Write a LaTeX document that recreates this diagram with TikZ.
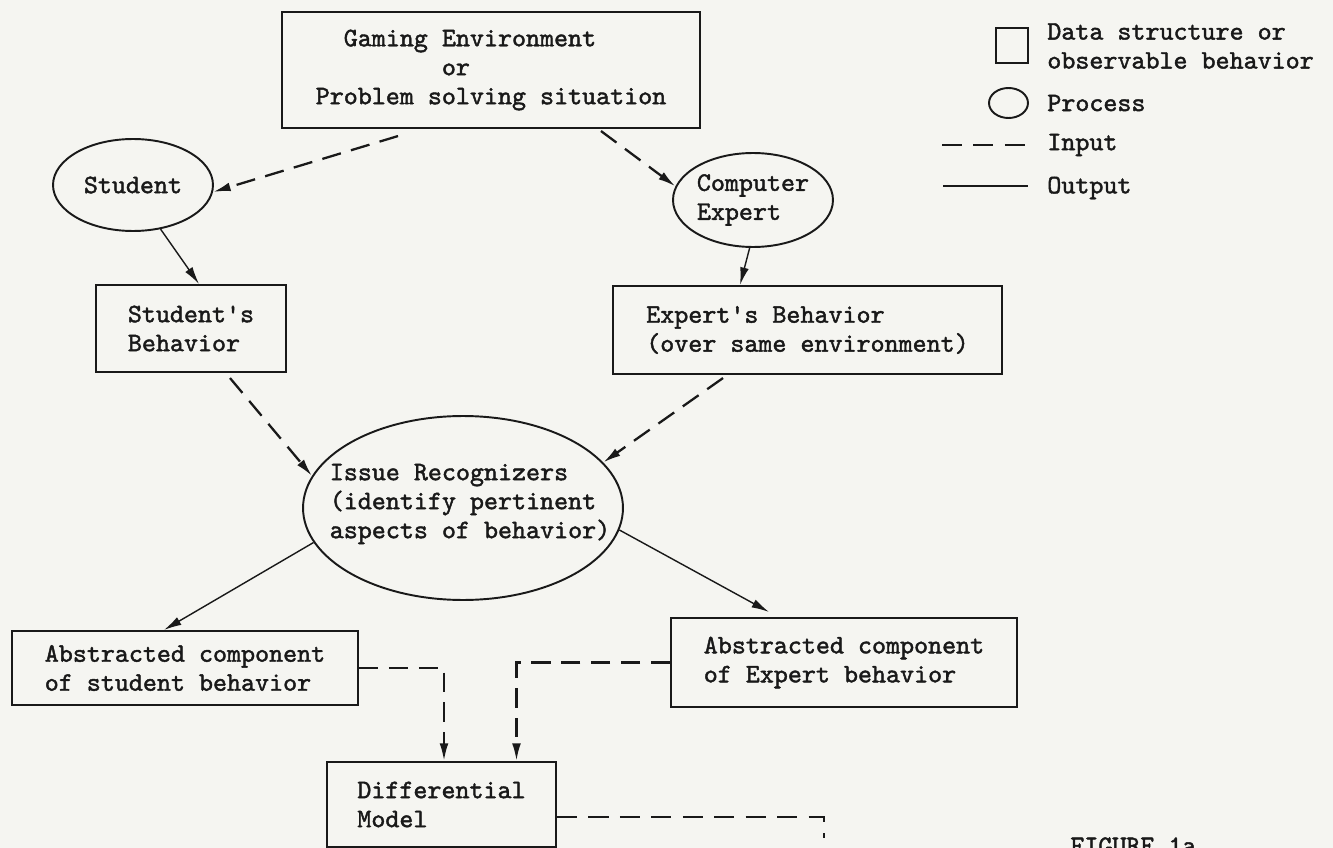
\documentclass[tikz,border=0pt]{standalone}
\usepackage{fontspec}
\newfontfamily\tw{lmmono10-regular.otf}[Ligatures=TeXOff,FakeBold=1.6]
\usetikzlibrary{arrows.meta,shapes.geometric}
\definecolor{ink}{RGB}{25,25,25}
\definecolor{paper}{RGB}{245,245,241}
\begin{document}
\begin{tikzpicture}[x=0.02cm,y=-0.02cm,
  txt/.style={font=\tw\fontsize{15.2}{16.5}\selectfont, text=ink, align=left, inner sep=0pt},
  box/.style={txt, draw=ink, line width=1.2pt, rectangle},
  proc/.style={txt, draw=ink, line width=1.1pt, ellipse},
  inarrow/.style={draw=ink, line width=1.3pt, dash pattern=on 11pt off 6pt, -{Latex[length=10pt,width=5pt]}},
  inline/.style={draw=ink, line width=1.3pt, dash pattern=on 11.4pt off 6.5pt},
  outarrow/.style={draw=ink, line width=0.8pt, -{Latex[length=10pt,width=5pt]}},
  outline/.style={draw=ink, line width=1.3pt}
]
\fill[paper] (0,0) rectangle (1333,848);
\useasboundingbox (0,0) rectangle (1333,848);

% main nodes
\node[box, minimum width=8.36cm, minimum height=2.32cm] (top) at (491,70)
  {\phantom{xx}Gaming Environment\\\phantom{xxxxxxxxx}or\\Problem solving situation};
\node[proc, minimum width=3.2cm, minimum height=1.84cm] (student) at (133,185) {Student};
\node[proc, minimum width=3.2cm, minimum height=1.88cm] (expert) at (753,200) {Computer\\Expert};
\node[box, minimum width=3.8cm, minimum height=1.74cm] (sbeh) at (191,328.5) {Student's\\Behavior};
\node[box, minimum width=7.78cm, minimum height=1.76cm] (ebeh) at (807.5,330)
  {Expert's Behavior\\(over same environment)};
\node[proc, minimum width=6.4cm, minimum height=3.68cm] (issue) at (463,508) {};
\node[txt] (issuet) at (470,504) {Issue Recognizers\\(identify pertinent\\aspects of behavior)};
\node[box, minimum width=6.92cm, minimum height=1.48cm] (absS) at (185,668)
  {Abstracted component\\of student behavior};
\node[box, minimum width=6.92cm, minimum height=1.78cm] (absE) at (844,662.5)
  {Abstracted component\\of Expert behavior};
\node[box, minimum width=4.58cm, minimum height=1.7cm] (diff) at (441.5,804.5)
  {Differential\\Model};
\coordinate (offp) at (824,838);
\node[txt, anchor=base west] (fig) at (1070,854) {FIGURE 1a};

% connectors
\draw[inarrow] ([xshift=-1.86cm,yshift=-0.14cm]top.south) -- (student.-5);
\draw[inarrow] ([xshift=2.2cm,yshift=-0.04cm]top.south) -- (expert.170);
\draw[outarrow] (student.-58) -- ([xshift=0.16cm]sbeh.north);
\draw[outarrow] (expert.-94) -- ([xshift=-1.35cm]ebeh.north);
\draw[inarrow] ([xshift=0.78cm,yshift=-0.1cm]sbeh.south) -- (issue.168);
\draw[inarrow] ([xshift=-1.69cm,yshift=-0.06cm]ebeh.south) -- (issue.18);
\draw[outarrow] (issue.193) -- ([xshift=-0.42cm]absS.north);
\draw[outarrow] (issue.-8) -- ([xshift=-1.5cm,yshift=0.1cm]absE.north);
\draw[inarrow] (absS.east) -| ([xshift=0.05cm]diff.north);
\draw[inarrow] (absE.west) -| ([xshift=1.5cm]diff.north);
\draw[inline] ([yshift=-0.25cm]diff.east) -| (offp);

% legend
\node[box, minimum width=0.64cm, minimum height=0.7cm] (lsq) at (1012,45.5) {};
\node[txt, anchor=west] (lsqt) at (1047,46) {Data structure or\\observable behavior};
\node[proc, minimum width=0.78cm, minimum height=0.6cm] (lell) at (1008.5,103) {};
\node[txt, anchor=west] (lellt) at (1047,103) {Process};
\coordinate (ld1) at (942,145);
\coordinate (ld2) at (1025,145);
\draw[inline] (ld1) -- (ld2);
\node[txt, anchor=west] (lint) at (1047,145) {Input};
\coordinate (lo1) at (943,186);
\coordinate (lo2) at (1028,186);
\draw[outline] (lo1) -- (lo2);
\node[txt, anchor=west] (lout) at (1047,188) {Output};
\end{tikzpicture}
\end{document}
